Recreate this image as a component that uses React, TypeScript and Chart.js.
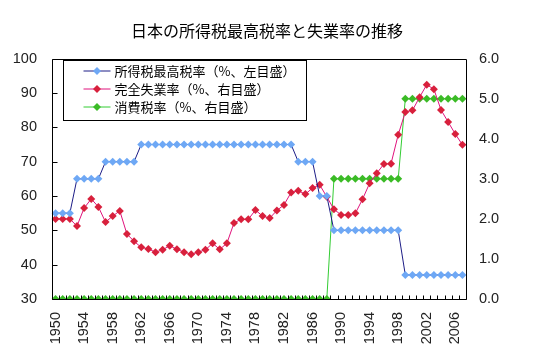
import { useEffect, useRef } from "react";
import { Chart, registerables } from "chart.js";

Chart.register(...registerables);

const years = [
  "1950", "1951", "1952", "1953", "1954", "1955", "1956", "1957", "1958", "1959",
  "1960", "1961", "1962", "1963", "1964", "1965", "1966", "1967", "1968", "1969",
  "1970", "1971", "1972", "1973", "1974", "1975", "1976", "1977", "1978", "1979",
  "1980", "1981", "1982", "1983", "1984", "1985", "1986", "1987", "1988", "1989",
  "1990", "1991", "1992", "1993", "1994", "1995", "1996", "1997", "1998", "1999",
  "2000", "2001", "2002", "2003", "2004", "2005", "2006", "2007",
];

const topIncomeTaxRate = [
  55, 55, 55, 65, 65, 65, 65, 70, 70, 70,
  70, 70, 75, 75, 75, 75, 75, 75, 75, 75,
  75, 75, 75, 75, 75, 75, 75, 75, 75, 75,
  75, 75, 75, 75, 70, 70, 70, 60, 60, 50,
  50, 50, 50, 50, 50, 50, 50, 50, 50, 37,
  37, 37, 37, 37, 37, 37, 37, 37,
];

const unemploymentRate = [
  2.0, 2.0, 2.0, 1.82, 2.27, 2.5, 2.3, 1.92, 2.07, 2.2,
  1.62, 1.44, 1.29, 1.25, 1.17, 1.23, 1.33, 1.24, 1.17, 1.12,
  1.17, 1.23, 1.39, 1.24, 1.39, 1.9, 1.99, 1.99, 2.22, 2.07,
  2.02, 2.21, 2.35, 2.66, 2.7, 2.62, 2.77, 2.85, 2.55, 2.24,
  2.1, 2.1, 2.14, 2.49, 2.89, 3.14, 3.37, 3.38, 4.1, 4.67,
  4.71, 5.04, 5.35, 5.24, 4.72, 4.42, 4.12, 3.85,
];

const consumptionTaxRate = [
  0, 0, 0, 0, 0, 0, 0, 0, 0, 0,
  0, 0, 0, 0, 0, 0, 0, 0, 0, 0,
  0, 0, 0, 0, 0, 0, 0, 0, 0, 0,
  0, 0, 0, 0, 0, 0, 0, 0, 0, 3,
  3, 3, 3, 3, 3, 3, 3, 3, 3, 5,
  5, 5, 5, 5, 5, 5, 5, 5,
];

const leftTicks = [30, 40, 50, 60, 70, 80, 90, 100];

const seriesLabels = [
  "所得税最高税率（%、左目盛）",
  "完全失業率（%、右目盛）",
  "消費税率（%、右目盛）",
];

const titleText = "日本の所得税最高税率と失業率の推移";

const FONT = "'Noto Sans CJK JP', 'Noto Sans', sans-serif";
const NUM_FONT = "'Liberation Sans', Arial, sans-serif";

const framePlugin = {
  id: "frame",
  afterDatasetsDraw(chart: any) {
    const { ctx, chartArea } = chart;
    const xs = chart.scales.x;
    const ys = chart.scales.y;
    ctx.save();
    ctx.strokeStyle = "#000";
    ctx.lineWidth = 1;
    ctx.beginPath();
    const l = Math.round(chartArea.left) + 0.5;
    const r = Math.round(chartArea.right) + 0.5;
    const t = Math.round(chartArea.top) + 0.5;
    const b = Math.round(chartArea.bottom) + 0.5;
    ctx.rect(l, t, r - l, b - t);
    const cw = xs.getPixelForValue(1) - xs.getPixelForValue(0);
    for (let i = 0; i <= years.length; i++) {
      const x = Math.round(xs.getPixelForValue(i) - cw / 2) + 0.5;
      ctx.moveTo(x, b);
      ctx.lineTo(x, b - 4);
    }
    for (const v of leftTicks) {
      const y = Math.round(ys.getPixelForValue(v)) + 0.5;
      ctx.moveTo(l, y);
      ctx.lineTo(l + 5, y);
    }
    ctx.stroke();
    ctx.restore();
  },
  afterDraw(chart: any) {
    const { ctx, chartArea } = chart;
    const bx = Math.round(chartArea.left) + 11.5;
    const by = Math.round(chartArea.top) + 1.5;
    const bw = 243;
    const bh = 60;
    ctx.save();
    ctx.fillStyle = "#fff";
    ctx.fillRect(bx, by, bw, bh);
    ctx.strokeStyle = "#000";
    ctx.lineWidth = 1;
    ctx.strokeRect(bx, by, bw, bh);
    ctx.font = "13px " + FONT;
    ctx.textBaseline = "middle";
    chart.data.datasets.forEach((ds: any, i: number) => {
      const y = by + 10.5 + i * 18;
      const x0 = bx + 20;
      ctx.strokeStyle = ds.borderColor;
      ctx.lineWidth = 1;
      ctx.beginPath();
      ctx.moveTo(x0, y);
      ctx.lineTo(x0 + 27, y);
      ctx.stroke();
      ctx.fillStyle = ds.pointBackgroundColor;
      ctx.beginPath();
      const cx = x0 + 13.5;
      const rr = 4;
      ctx.moveTo(cx, y - rr);
      ctx.lineTo(cx + rr, y);
      ctx.lineTo(cx, y + rr);
      ctx.lineTo(cx - rr, y);
      ctx.closePath();
      ctx.fill();
      ctx.fillStyle = "#000";
      ctx.fillText(ds.label, x0 + 31, y + 0.5);
    });
    ctx.restore();
  },
};

export default function App() {
  const canvasRef = useRef<HTMLCanvasElement | null>(null);

  useEffect(() => {
    document.body.style.margin = "0";
    const canvas = canvasRef.current;
    if (!canvas) return;
    const chart = new Chart(canvas, {
      type: "line",
      data: {
        labels: years,
        datasets: [
          {
            label: seriesLabels[0],
            data: topIncomeTaxRate,
            yAxisID: "y",
            borderColor: "#1c1c86",
            borderWidth: 1,
            pointStyle: "rectRot",
            pointRadius: 4,
            pointBorderWidth: 0,
            pointBackgroundColor: "#6ea8f5",
            pointBorderColor: "#6ea8f5",
            tension: 0,
          },
          {
            label: seriesLabels[1],
            data: unemploymentRate,
            yAxisID: "y1",
            borderColor: "#e0127c",
            borderWidth: 1,
            pointStyle: "rectRot",
            pointRadius: 4,
            pointBorderWidth: 0,
            pointBackgroundColor: "#d8203c",
            pointBorderColor: "#d8203c",
            tension: 0,
          },
          {
            label: seriesLabels[2],
            data: consumptionTaxRate,
            yAxisID: "y1",
            borderColor: "#33cc33",
            borderWidth: 1,
            pointStyle: "rectRot",
            pointRadius: 4,
            pointBorderWidth: 0,
            pointBackgroundColor: "#3bbb26",
            pointBorderColor: "#3bbb26",
            tension: 0,
          },
        ],
      },
      options: {
        responsive: false,
        animation: false,
        layout: { padding: { left: 0, top: 0, bottom: 0, right: 13 } },
        plugins: {
          legend: { display: false },
          tooltip: { enabled: false },
          title: {
            display: true,
            text: titleText,
            color: "#000",
            font: { family: FONT, size: 16, weight: "normal" },
            padding: { top: 21, bottom: 18.5 },
          },
        },
        scales: {
          x: {
            type: "category",
            offset: true,
            grid: { display: false, drawTicks: false },
            border: { display: false },
            ticks: {
              autoSkip: false,
              maxRotation: 90,
              minRotation: 90,
              padding: 13,
              color: "#222",
              font: { family: NUM_FONT, size: 14.5 },
              callback: (_v: any, i: number) => ((Number(years[i]) - 1950) % 4 === 0 ? years[i] : ""),
            },
            afterFit: (s: any) => {
              s.height = 60;
            },
          },
          y: {
            type: "linear",
            position: "left",
            min: 30,
            max: 100,
            grid: { display: false, drawTicks: false },
            border: { display: false },
            ticks: {
              stepSize: 10,
              padding: 15,
              color: "#222",
              font: { family: NUM_FONT, size: 14.5 },
            },
            afterFit: (s: any) => {
              s.width = 52;
            },
          },
          y1: {
            type: "linear",
            position: "right",
            min: 0,
            max: 6,
            grid: { display: false, drawTicks: false },
            border: { display: false },
            ticks: {
              stepSize: 1,
              padding: 13,
              color: "#222",
              font: { family: NUM_FONT, size: 14.5 },
              callback: (v: any) => Number(v).toFixed(1),
            },
            afterFit: (s: any) => {
              s.width = 68;
            },
          },
        },
      },
      plugins: [framePlugin],
    });
    return () => chart.destroy();
  }, []);

  return (
    <div style={{ width: 547, height: 359, background: "#fff" }}>
      <canvas ref={canvasRef} width={547} height={359} />
    </div>
  );
}
